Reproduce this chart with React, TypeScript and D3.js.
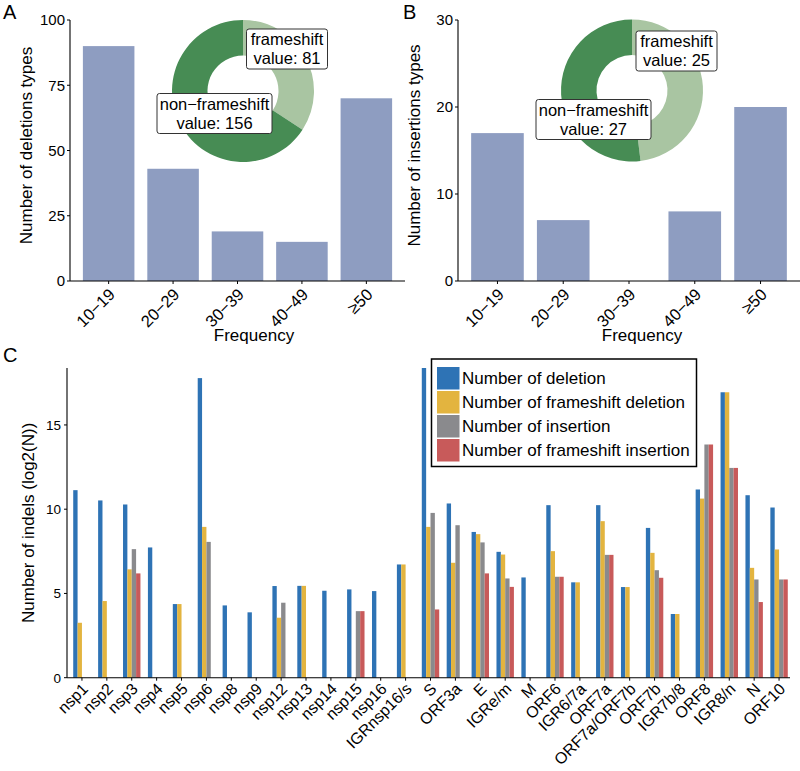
import React from "react";
import * as d3 from "d3";

// ---------- Data ----------
const freqCategories = ["10−19", "20−29", "30−39", "40−49", "≥50"];
const deletionTypes = [90, 43, 19, 15, 70];
const insertionTypes = [17, 7, 0, 8, 20];

const donutLabels = ["frameshift", "non−frameshift"];
const deletionDonut = [81, 156];
const insertionDonut = [25, 27];

const genes = [
  "nsp1", "nsp2", "nsp3", "nsp4", "nsp5", "nsp6", "nsp8", "nsp9", "nsp12", "nsp13",
  "nsp14", "nsp15", "nsp16", "IGRnsp16/s", "S", "ORF3a", "E", "IGRe/m", "M", "ORF6",
  "IGR6/7a", "ORF7a", "ORF7a/ORF7b", "ORF7b", "IGR7b/8", "ORF8", "IGR8/n", "N", "ORF10",
];
const nDeletion = [
  11.13, 10.52, 10.28, 7.73, 4.37, 17.78, 4.29, 3.88, 5.44, 5.45,
  5.16, 5.24, 5.14, 6.72, 18.38, 10.34, 8.65, 7.47, 5.95, 10.24,
  5.66, 10.24, 5.38, 8.89, 3.78, 11.17, 16.94, 10.83, 10.1,
];
const nFsDeletion = [
  3.26, 4.55, 6.43, null, 4.37, 8.95, null, null, 3.56, 5.45,
  null, null, null, 6.72, 8.95, 6.82, 8.52, 7.31, null, 7.51,
  5.66, 9.29, 5.38, 7.41, 3.78, 10.63, 16.94, 6.52, 7.61,
];
const nInsertion = [
  null, null, 7.63, null, null, 8.06, null, null, 4.45, null,
  null, 3.95, null, null, 9.78, 9.05, 8.03, 5.89, null, 5.99,
  null, 7.29, null, 6.38, null, 13.84, 12.45, 5.83, 5.83,
];
const nFsInsertion = [
  null, null, 6.19, null, null, null, null, null, null, null,
  null, 3.95, null, null, 4.05, null, 6.19, 5.39, null, 5.99,
  null, 7.29, null, 5.93, null, 13.84, 12.45, 4.49, 5.83,
];
const seriesNames = [
  "Number of deletion",
  "Number of frameshift deletion",
  "Number of insertion",
  "Number of frameshift insertion",
];
const seriesColors = ["#2e73b5", "#e3b43f", "#8a8a8d", "#c85a5a"];
const seriesValues = [nDeletion, nFsDeletion, nInsertion, nFsInsertion];

const barColor = "#8e9dc1";
const donutColors = ["#a9c5a2", "#478c54"];
const FONT = "'Liberation Sans', Arial, Helvetica, sans-serif";

// ---------- Panels ----------
type PanelProps = {
  values: number[];
  yMax: number;
  yTicks: number[];
  left: number;
  right: number;
  top: number;
  bottom: number;
  yTitle: string;
  letter: string;
  letterX: number;
  freqX: number;
  donut: number[];
  donutCx: number;
  donutCy: number;
  labelOffsets: [number, number][];
};

function BarDonutPanel(p: PanelProps) {
  const x = d3
    .scaleBand<string>()
    .domain(freqCategories)
    .range([p.left, p.right])
    .paddingInner(0.2)
    .paddingOuter(0.2);
  const y = d3.scaleLinear().domain([0, p.yMax]).range([p.bottom, p.top]);

  const pie = d3.pie<number>().sort(null).startAngle(0).endAngle(2 * Math.PI);
  const arcs = pie(p.donut);
  const arc = d3.arc<d3.PieArcDatum<number>>().innerRadius(35.5).outerRadius(71);

  return (
    <g fontFamily={FONT}>
      <text x={p.letterX} y={19} fontSize={20}>{p.letter}</text>
      {p.values.map((v, i) => (
        <rect
          key={i}
          x={x(freqCategories[i])!}
          width={x.bandwidth()}
          y={y(v)}
          height={p.bottom - y(v)}
          fill={barColor}
        />
      ))}
      {/* axes */}
      <line x1={p.left} x2={p.left} y1={p.top} y2={p.bottom} stroke="#000" strokeWidth={1.1} />
      <line x1={p.left} x2={p.right} y1={p.bottom} y2={p.bottom} stroke="#000" strokeWidth={1.1} />
      {p.yTicks.map((t) => (
        <g key={t}>
          <line x1={p.left - 3} x2={p.left} y1={y(t)} y2={y(t)} stroke="#000" />
          <text x={p.left - 5} y={y(t)} dy="0.36em" textAnchor="end" fontSize={15}>{t}</text>
        </g>
      ))}
      {freqCategories.map((c) => {
        const cx = x(c)! + x.bandwidth() / 2;
        return (
          <g key={c}>
            <line x1={cx} x2={cx} y1={p.bottom} y2={p.bottom + 3} stroke="#000" />
            <text
              transform={`translate(${cx - 1},${p.bottom + 6}) rotate(-45)`}
              textAnchor="end"
              dy="0.72em"
              fontSize={16.5}
            >
              {c}
            </text>
          </g>
        );
      })}
      <text
        transform={`translate(${p.left - 38},${(p.top + p.bottom) / 2 - 5}) rotate(-90)`}
        textAnchor="middle"
        fontSize={17}
      >
        {p.yTitle}
      </text>
      <text x={p.freqX} y={341} textAnchor="middle" fontSize={17}>Frequency</text>
      {/* donut */}
      <g transform={`translate(${p.donutCx},${p.donutCy})`}>
        {arcs.map((a, i) => (
          <path key={i} d={arc(a)!} fill={donutColors[i]} />
        ))}
        {arcs.map((a, i) => {
          const [ox, oy] = p.labelOffsets[i];
          const w = i === 0 ? 81 : 115;
          const h = 40;
          return (
            <g key={"l" + i} transform={`translate(${ox},${oy})`}>
              <rect x={-w / 2} y={-h / 2} width={w} height={h} rx={2.5} fill="#fff" stroke="#333" strokeWidth={1} />
              <text textAnchor="middle" y={-4} fontSize={16.5}>{donutLabels[i]}</text>
              <text textAnchor="middle" y={15} fontSize={16.5}>{`value: ${a.data}`}</text>
            </g>
          );
        })}
      </g>
    </g>
  );
}

function IndelPanel() {
  const left = 67;
  const right = 794;
  const top = 368;
  const bottom = 677.7;
  const x = d3.scaleBand<string>().domain(genes).range([left, right]).paddingInner(0.3).paddingOuter(0.25);
  const xs = d3.scaleBand<number>().domain([0, 1, 2, 3]).range([0, x.bandwidth()]);
  const yMax = d3.max(seriesValues.flat().filter((v) => v != null) as number[])!;
  const y = d3.scaleLinear().domain([0, yMax]).range([bottom, top]);
  const yTicks = [0, 5, 10, 15];

  const legX = 431.5;
  const legY = 359;

  return (
    <g fontFamily={FONT}>
      <text x={3} y={362} fontSize={20}>C</text>
      {genes.map((g, gi) => (
        <g key={g}>
          {seriesValues.map((vals, si) => {
            const v = vals[gi];
            if (v == null) return null;
            return (
              <rect
                key={si}
                x={x(g)! + xs(si)!}
                width={xs.bandwidth()}
                y={y(v)}
                height={bottom - y(v)}
                fill={seriesColors[si]}
              />
            );
          })}
        </g>
      ))}
      <line x1={left} x2={left} y1={top} y2={bottom} stroke="#000" strokeWidth={1.1} />
      <line x1={left} x2={right - 4} y1={bottom} y2={bottom} stroke="#000" strokeWidth={1.1} />
      {yTicks.map((t) => (
        <g key={t}>
          <line x1={left - 3} x2={left} y1={y(t)} y2={y(t)} stroke="#000" />
          <text x={left - 6} y={y(t)} dy="0.36em" textAnchor="end" fontSize={13.5}>{t}</text>
        </g>
      ))}
      {genes.map((g) => {
        const cx = x(g)! + x.bandwidth() / 2;
        return (
          <g key={"t" + g}>
            <line x1={cx} x2={cx} y1={bottom} y2={bottom + 3} stroke="#000" />
            <text
              transform={`translate(${cx - 1},${bottom + 4}) rotate(-45)`}
              textAnchor="end"
              dy="0.72em"
              fontSize={16}
            >
              {g}
            </text>
          </g>
        );
      })}
      <text
        transform={`translate(34,${(top + bottom) / 2}) rotate(-90)`}
        textAnchor="middle"
        fontSize={17}
      >
        Number of indels (log2(N))
      </text>
      {/* legend */}
      <rect x={legX} y={legY} width={265} height={107.5} fill="#fff" stroke="#000" strokeWidth={1.5} />
      {seriesNames.map((s, i) => (
        <g key={s}>
          <rect x={legX + 5.5} y={legY + 8 + i * 24} width={22.5} height={22.5} fill={seriesColors[i]} />
          <text x={legX + 30.5} y={legY + 8 + i * 24 + 17} fontSize={17}>{s}</text>
        </g>
      ))}
    </g>
  );
}

export default function App() {
  return (
    <div style={{ position: "absolute", left: 0, top: 0, width: 800, height: 771, background: "#fff" }}>
      <svg width={800} height={771} viewBox="0 0 800 771">
        <rect width={800} height={771} fill="#fff" />
        <BarDonutPanel
          values={deletionTypes}
          yMax={100}
          yTicks={[0, 25, 50, 75, 100]}
          left={70}
          right={405}
          top={20}
          bottom={281}
          yTitle="Number of deletions types"
          letter="A"
          letterX={3}
          freqX={254}
          donut={deletionDonut}
          donutCx={243}
          donutCy={91}
          labelOffsets={[[44, -42], [-28.5, 22.5]]}
        />
        <BarDonutPanel
          values={insertionTypes}
          yMax={30}
          yTicks={[0, 10, 20, 30]}
          left={458}
          right={800}
          top={20}
          bottom={281}
          yTitle="Number of insertions types"
          letter="B"
          letterX={403}
          freqX={642}
          donut={insertionDonut}
          donutCx={632}
          donutCy={90.5}
          labelOffsets={[[44.5, -39.5], [-38.5, 29]]}
        />
        <IndelPanel />
      </svg>
    </div>
  );
}
